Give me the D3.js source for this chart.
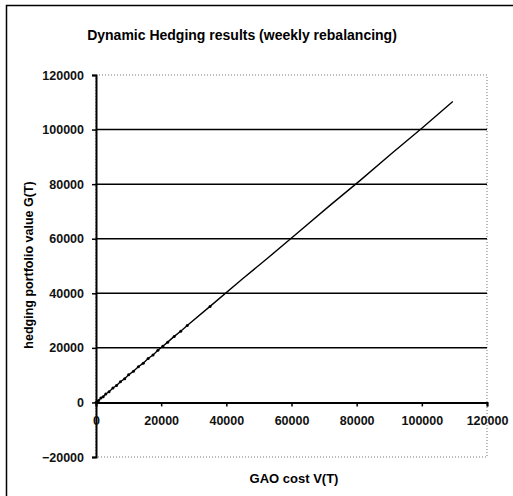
<!DOCTYPE html>
<html><head><meta charset="utf-8">
<script src="https://cdn.jsdelivr.net/npm/d3@7"></script>
<style>body{margin:0;background:#fff}svg{display:block}</style>
</head><body>
<script>
const title = "Dynamic Hedging results (weekly rebalancing)";
const xLabel = "GAO cost V(T)";
const yLabel = "hedging portfolio value G(T)";
const xTicks = [0, 20000, 40000, 60000, 80000, 100000, 120000];
const yTicks = [-20000, 0, 20000, 40000, 60000, 80000, 100000, 120000];
const gaoCost = [0, 300, 800, 1500, 2200, 3000, 4000, 5200, 6300, 7500, 8800, 10000, 11500, 13000, 14500, 16000, 17500, 19000, 20500, 22000, 24000, 26000, 28000, 35000, 45000, 53000, 62000, 72000, 81000, 91000, 100000, 109500];
const hedgeValue = [0, 350, 750, 1600, 2100, 3100, 3900, 5300, 6200, 7600, 8700, 10100, 11400, 13100, 14400, 16100, 17400, 19100, 20600, 22100, 24200, 26100, 28200, 35200, 45300, 53200, 62300, 72400, 81300, 91500, 100500, 110300];

const W = 513, H = 496;
const FONT = "Arial, 'Liberation Sans', sans-serif";
const svg = d3.select("body").append("svg").attr("width", W).attr("height", H);

// outer frame
svg.append("rect").attr("x", 6.5).attr("y", 5.5).attr("width", 520).attr("height", 520)
  .attr("fill", "none").attr("stroke", "#000").attr("stroke-width", 1.5);

const x = d3.scaleLinear().domain([0, 120000]).range([96, 487]);
const y = d3.scaleLinear().domain([-20000, 120000]).range([457, 75]);

// plot area border (dotted)
svg.append("rect").attr("x", x(0)).attr("y", y(120000))
  .attr("width", x(120000) - x(0)).attr("height", y(-20000) - y(120000))
  .attr("fill", "none").attr("stroke", "#777").attr("stroke-width", 1).attr("stroke-dasharray", "1,2");

// gridlines
svg.append("g").selectAll("line").data(yTicks.filter(v => v > 0 && v < 120000)).join("line")
  .attr("x1", x(0)).attr("x2", x(120000)).attr("y1", d => y(d)).attr("y2", d => y(d))
  .attr("stroke", "#000").attr("stroke-width", 1.5);

// Y axis
const yAxis = svg.append("g").attr("transform", `translate(${x(0)},0)`)
  .call(d3.axisLeft(y).tickValues(yTicks).tickFormat(d3.format("d")).tickSize(4).tickPadding(8));
yAxis.select(".domain").attr("stroke-width", 2);
yAxis.selectAll(".tick line").attr("stroke-width", 1.5);
yAxis.selectAll("text").attr("font-family", FONT).attr("font-size", 12.5).attr("font-weight", "bold").attr("fill", "#111");

// X axis at y=0
const xAxis = svg.append("g").attr("transform", `translate(0,${y(0)})`)
  .call(d3.axisBottom(x).tickValues(xTicks).tickFormat(d3.format("d")).tickSize(4).tickPadding(10));
xAxis.select(".domain").attr("stroke-width", 2);
xAxis.selectAll(".tick line").attr("stroke-width", 1.5);
xAxis.selectAll("text").attr("font-family", FONT).attr("font-size", 12.5).attr("font-weight", "bold").attr("fill", "#111");

// data
const pts = gaoCost.map((v, i) => [v, hedgeValue[i]]);
svg.append("path").datum(pts)
  .attr("d", d3.line().x(d => x(d[0])).y(d => y(d[1])))
  .attr("fill", "none").attr("stroke", "#000").attr("stroke-width", 1.4);
svg.append("g").selectAll("circle").data(pts.slice(0, 24)).join("circle")
  .attr("cx", d => x(d[0])).attr("cy", d => y(d[1])).attr("r", 1.5).attr("fill", "#000");

// title
svg.append("text").attr("x", 242).attr("y", 40).attr("text-anchor", "middle")
  .attr("font-family", FONT).attr("font-size", 14).attr("font-weight", "bold")
  .text(title);

// axis labels
svg.append("text").attr("x", 294).attr("y", 483).attr("text-anchor", "middle")
  .attr("font-family", FONT).attr("font-size", 13).attr("font-weight", "bold")
  .text(xLabel);
svg.append("text").attr("transform", `translate(33,265) rotate(-90)`).attr("text-anchor", "middle")
  .attr("font-family", FONT).attr("font-size", 12.5).attr("font-weight", "bold")
  .text(yLabel);
</script>
</body></html>
